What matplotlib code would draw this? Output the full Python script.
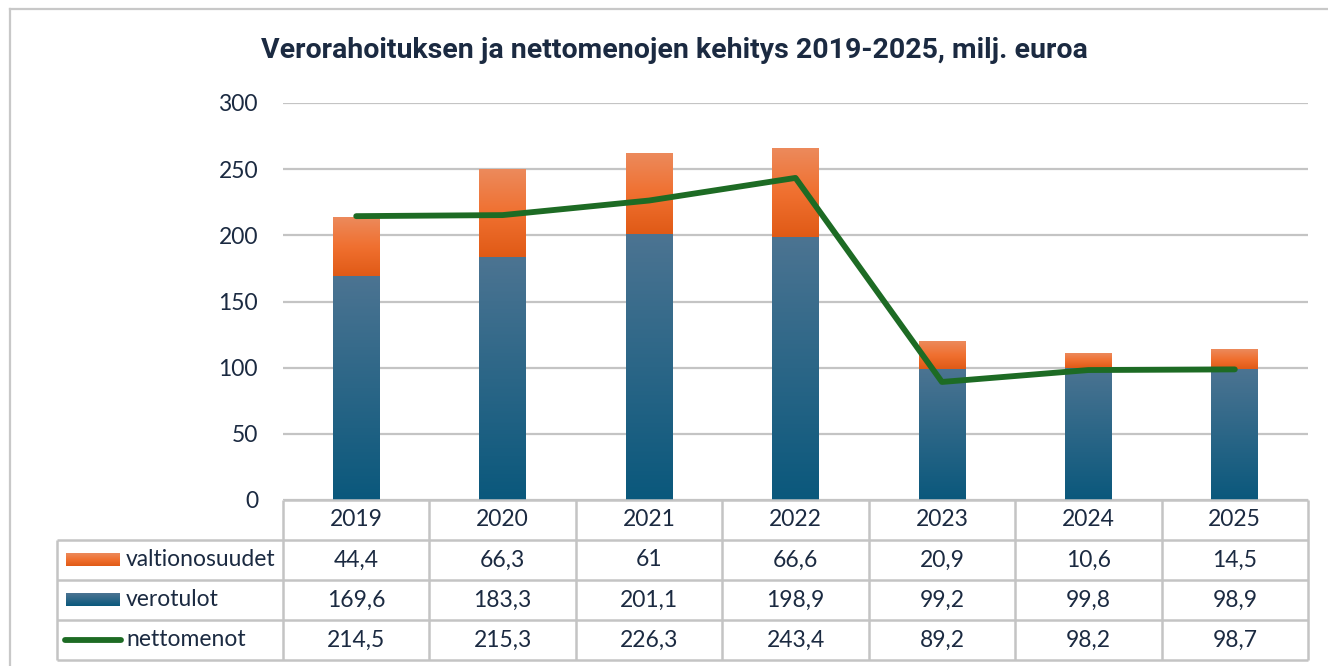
import numpy as np
import matplotlib
matplotlib.use("Agg")
import matplotlib.pyplot as plt
from matplotlib.colors import LinearSegmentedColormap
from matplotlib.lines import Line2D

years = ["2019", "2020", "2021", "2022", "2023", "2024", "2025"]
valtionosuudet = [44.4, 66.3, 61.0, 66.6, 20.9, 10.6, 14.5]
verotulot = [169.6, 183.3, 201.1, 198.9, 99.2, 99.8, 98.9]
nettomenot = [214.5, 215.3, 226.3, 243.4, 89.2, 98.2, 98.7]
row_labels = ["valtionosuudet", "verotulot", "nettomenot"]
yticks = [0, 50, 100, 150, 200, 250, 300]
title = "Verorahoituksen ja nettomenojen kehitys 2019-2025, milj. euroa"

TEXT = "#1B2A41"
GRID = "#C4C4C4"
GREEN = "#1D6B24"
BLUE_TOP, BLUE_BOT = "#4C7492", "#0A587C"
OR_TOP, OR_MID, OR_BOT = "#EC8A5C", "#F07030", "#E05A16"

blue_cmap = LinearSegmentedColormap.from_list("b", [BLUE_BOT, BLUE_TOP])
or_cmap = LinearSegmentedColormap.from_list("o", [OR_BOT, OR_MID, OR_TOP])

plt.rcParams['font.family'] = ['Lato', 'DejaVu Sans']

W, H = 1328, 666
fig = plt.figure(figsize=(W / 100, H / 100), dpi=100)

def fx(px):
    return px / W

def fy(py):
    return 1 - py / H

# outer frame
fig.add_artist(Line2D([fx(10), fx(10)], [fy(9), -0.1], color="#C8C8C8", lw=1.6,
                      transform=fig.transFigure))
fig.add_artist(Line2D([fx(10), 1.1], [fy(9), fy(9)], color="#C8C8C8", lw=1.6,
                      transform=fig.transFigure))

# main axes
L, R, T, B = 283, 1308, 103, 500
ax = fig.add_axes([fx(L), fy(B), fx(R) - fx(L), fy(T) - fy(B)])
x = np.arange(len(years))
width = 0.32
b1 = ax.bar(x, verotulot, width, color="none", zorder=2)
b2 = ax.bar(x, valtionosuudet, width, bottom=verotulot, color="none", zorder=2)

grad = np.linspace(0, 1, 256).reshape(-1, 1)
for bars, cmap in ((b1, blue_cmap), (b2, or_cmap)):
    for p in bars:
        x0, y0 = p.get_x(), p.get_y()
        ax.imshow(grad, extent=[x0, x0 + p.get_width(), y0, y0 + p.get_height()],
                  origin="lower", aspect="auto", cmap=cmap, zorder=2,
                  interpolation="bilinear")

ax.plot(x, nettomenot, color=GREEN, lw=4.2, solid_capstyle="round",
        solid_joinstyle="round", zorder=3)

ax.set_xlim(-0.5, len(years) - 0.5)
ax.set_ylim(0, 300)
ax.set_yticks(yticks)
ax.set_yticklabels([str(t) for t in yticks], fontsize=16.5, color=TEXT)
ax.tick_params(axis="y", length=0, pad=18)
ax.set_xticks([])
ax.grid(axis="y", color=GRID, lw=1.6, zorder=0)
ax.set_axisbelow(True)
for s in ax.spines.values():
    s.set_visible(False)

# table axes
TL = 57
tab = fig.add_axes([fx(TL), fy(660), fx(R) - fx(TL), fy(500) - fy(660)])
px_per_cat = (R - L) / len(years)
tx0 = -0.5 - (L - TL) / px_per_cat
tab.axis("off")

lkw = dict(color=GRID, lw=1.8, solid_capstyle="butt", clip_on=False)
tab.plot([-0.5, len(years) - 0.5], [0, 0], **lkw)
for r in range(1, 5):
    tab.plot([tx0, len(years) - 0.5], [r, r], **lkw)
for c in range(len(years) + 1):
    tab.plot([c - 0.5, c - 0.5], [0, 4], **lkw)
tab.plot([tx0, tx0], [1, 4], **lkw)

for i, yv in enumerate(years):
    tab.text(i, 0.5, yv, ha="center", va="center", fontsize=16.5, color=TEXT)

def fmt(v):
    s = ("%.1f" % v).replace(".", ",")
    if s.endswith(",0"):
        s = s[:-2]
    return s

rows = [valtionosuudet, verotulot, nettomenot]
for r, vals in enumerate(rows):
    for i, v in enumerate(vals):
        tab.text(i, r + 1.5, fmt(v), ha="center", va="center", fontsize=16.5, color=TEXT)

# legend keys
kx0 = tx0 + 9 / px_per_cat
kx1 = tx0 + 63 / px_per_cat
tx_lab = tx0 + 69 / px_per_cat
for r, cmap in ((0, or_cmap), (1, blue_cmap)):
    tab.imshow(grad, extent=[kx0, kx1, r + 1.66, r + 1.34], origin="lower",
               aspect="auto", cmap=cmap, interpolation="bilinear", zorder=2)
tab.plot([kx0 - 0.005, kx1 + 0.005], [3.5, 3.5], color=GREEN, lw=4.2,
         solid_capstyle="round", zorder=2)
for r, lab in enumerate(row_labels):
    tab.text(tx_lab, r + 1.5, lab, ha="left", va="center", fontsize=16.5, color=TEXT)
tab.set_xlim(tx0, len(years) - 0.5)
tab.set_ylim(4, 0)

fig.text(fx(674), fy(50), title, ha="center", va="center", fontsize=20.5,
         fontweight="bold", color=TEXT,
         family=['Liberation Sans Narrow', 'Roboto', 'DejaVu Sans'])

fig.savefig("out.png", dpi=100)
